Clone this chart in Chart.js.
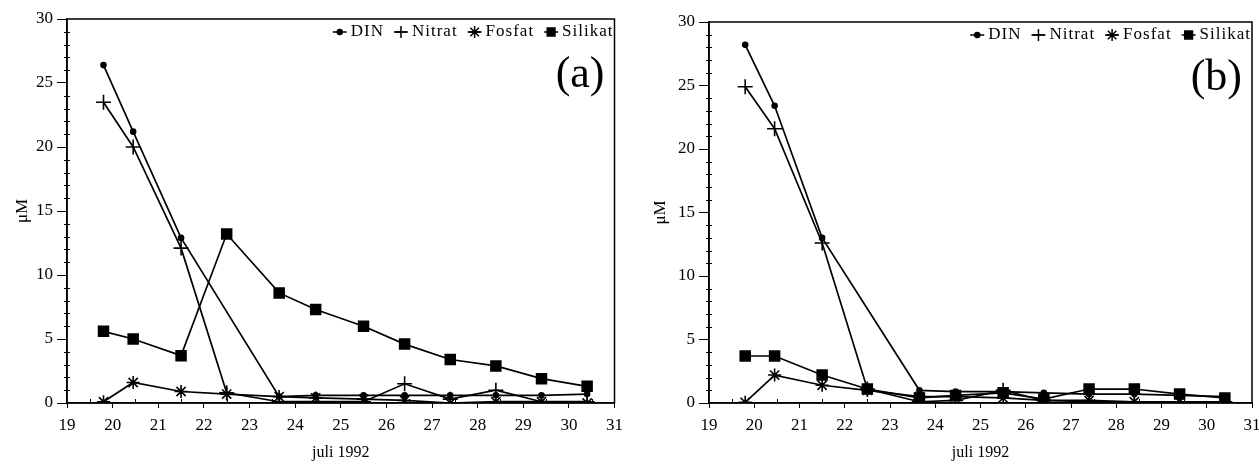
<!DOCTYPE html>
<html>
<head>
<meta charset="utf-8">
<script src="https://cdn.jsdelivr.net/npm/chart.js@4.4.1/dist/chart.umd.min.js"></script>
<style>
html, body { margin:0; padding:0; background:#fff; overflow:hidden; }
#pa { position:absolute; left:0; top:0; width:630px; height:465px; }
#pb { position:absolute; left:630px; top:0; width:640px; height:465px; }
</style>
</head>
<body>
<div id="pa"><canvas id="chartA"></canvas></div>
<div id="pb"><canvas id="chartB"></canvas></div>
<script>
// sampling days (juli 1992)
var days = [19.8, 20.45, 21.5, 22.5, 23.65, 24.45, 25.5, 26.4, 27.4, 28.4, 29.4, 30.4];
var seriesNames = ['DIN', 'Nitrat', 'Fosfat', 'Silikat'];
var yTicks = [0, 5, 10, 15, 20, 25, 30];

// panel (a)
var dinA     = [26.4, 21.2, 12.9, null, 0.5, 0.6, 0.6, 0.6, 0.6, 0.6, 0.6, 0.7];
var nitratA  = [23.5, 20.0, 12.1, 0.8, 0.1, 0.1, 0.1, 1.5, 0.3, 1.0, 0.1, 0.1];
var fosfatA  = [0.1, 1.6, 0.9, 0.7, 0.5, 0.4, 0.3, 0.2, 0.0, 0.1, 0.1, 0.0];
var silikatA = [5.6, 5.0, 3.7, 13.2, 8.6, 7.3, 6.0, 4.6, 3.4, 2.9, 1.9, 1.3];

// panel (b)
var dinB     = [28.2, 23.4, 13.0, null, 1.0, 0.9, 0.9, 0.8, 0.7, 0.7, 0.6, 0.5];
var nitratB  = [24.9, 21.6, 12.6, 1.1, 0.1, 0.2, 1.0, 0.2, 0.1, 0.1, 0.1, 0.1];
var fosfatB  = [0.05, 2.2, 1.4, 1.0, 0.5, 0.5, 0.4, 0.2, 0.2, 0.1, 0.1, 0.1];
var silikatB = [3.7, 3.7, 2.2, 1.1, 0.4, 0.6, 0.8, 0.3, 1.1, 1.1, 0.7, 0.4];

var serif = '"Liberation Serif", "DejaVu Serif", serif';
var styles = [
  { pointStyle: 'circle', pointRadius: 2.5 },
  { pointStyle: 'cross',  pointRadius: 7.5 },
  { pointStyle: 'star',   pointRadius: 6.5 },
  { pointStyle: 'rect',   pointRadius: 7 }
];

function pts(vals) {
  return days.map(function (d, i) { return { x: d, y: vals[i] }; });
}

function makeDatasets(lists) {
  return lists.map(function (vals, i) {
    return {
      label: seriesNames[i],
      data: pts(vals),
      borderColor: '#000',
      backgroundColor: '#000',
      borderWidth: 1.7,
      pointBorderWidth: 1.6,
      pointStyle: styles[i].pointStyle,
      pointRadius: styles[i].pointRadius,
      spanGaps: true,
      tension: 0
    };
  });
}

// frame, minor ticks, inside legend and panel letter
var extras = {
  id: 'extras',
  afterDraw: function (chart, args, opts) {
    var ctx = chart.ctx, a = chart.chartArea;
    var xs = chart.scales.x, ys = chart.scales.y;
    ctx.save();
    ctx.strokeStyle = '#000';
    ctx.fillStyle = '#000';
    ctx.lineWidth = 1.5;
    ctx.strokeRect(a.left, a.top, a.right - a.left, a.bottom - a.top);

    ctx.lineWidth = 1;
    ctx.beginPath();
    for (var v = 1; v < 30; v++) {
      if (v % 5 === 0) continue;
      var py = Math.round(ys.getPixelForValue(v)) + 0.5;
      ctx.moveTo(a.left - 3, py); ctx.lineTo(a.left + 3, py);
    }
    for (var d = 19.5; d < 31; d++) {
      var px = Math.round(xs.getPixelForValue(d)) + 0.5;
      ctx.moveTo(px, a.bottom); ctx.lineTo(px, a.bottom - 4);
    }
    ctx.stroke();

    // legend, right aligned inside the plot
    ctx.font = '17px ' + serif;
    ctx.letterSpacing = '1px';
    ctx.textBaseline = 'middle';
    ctx.textAlign = 'left';
    var ly = a.top + 13;
    var x = a.right - 1;
    for (var i = seriesNames.length - 1; i >= 0; i--) {
      var w = ctx.measureText(seriesNames[i]).width;
      x -= w;
      ctx.fillText(seriesNames[i], x, ly);
      x -= 4;
      var mx = x - 7;
      ctx.lineWidth = 1.5;
      ctx.beginPath(); ctx.moveTo(mx - 7, ly); ctx.lineTo(mx + 7, ly); ctx.stroke();
      var st = styles[i];
      Chart.helpers.drawPoint(ctx, {
        pointStyle: st.pointStyle,
        radius: st.pointStyle === 'circle' ? 2.5 : (st.pointStyle === 'rect' ? 5.5 : 6),
        borderWidth: 1.5,
        rotation: 0
      }, mx, ly);
      x = mx - 7 - 10;
    }

    ctx.letterSpacing = '0px';
    ctx.font = '44px ' + serif;
    ctx.textAlign = 'right';
    ctx.fillText(opts.label, a.right - 10, a.top + 56);
    ctx.restore();
  }
};

function makeChart(id, lists, letter, yWidth, topPad, rightPad, titlePad) {
  return new Chart(document.getElementById(id), {
    type: 'line',
    data: { datasets: makeDatasets(lists) },
    plugins: [extras],
    options: {
      animation: false,
      responsive: true,
      maintainAspectRatio: false,
      layout: { padding: { top: topPad, right: rightPad, left: 0, bottom: 0 } },
      plugins: {
        legend: { display: false },
        tooltip: { enabled: false },
        extras: { label: letter }
      },
      scales: {
        x: {
          type: 'linear', min: 19, max: 31,
          afterFit: function (s) { s.height = 62; },
          ticks: { stepSize: 1, autoSkip: false, maxRotation: 0, padding: 7, color: '#000',
                   font: { family: serif, size: 17 } },
          grid: { drawOnChartArea: false, drawTicks: true, tickLength: 5, color: '#000' },
          border: { color: '#000', width: 1.5 },
          title: { display: true, text: 'juli 1992', color: '#000', padding: { top: 4, bottom: 3 },
                   font: { family: serif, size: 16 } }
        },
        y: {
          min: 0, max: 30,
          afterFit: function (s) { s.width = yWidth; },
          afterBuildTicks: function (s) { s.ticks = yTicks.map(function (v) { return { value: v }; }); },
          ticks: { padding: 4, color: '#000', font: { family: serif, size: 17 } },
          grid: { drawOnChartArea: false, drawTicks: true, tickLength: 10, color: '#000' },
          border: { color: '#000', width: 1.5 },
          title: { display: true, text: 'μM', color: '#000', padding: { top: titlePad, bottom: 4 },
                   font: { family: serif, size: 17 } }
        }
      }
    }
  });
}

makeChart('chartA', [dinA, nitratA, fosfatA, silikatA], '(a)', 67, 19, 13, 12);
makeChart('chartB', [dinB, nitratB, fosfatB, silikatB], '(b)', 79, 22, 18, 20);
</script>
</body>
</html>
